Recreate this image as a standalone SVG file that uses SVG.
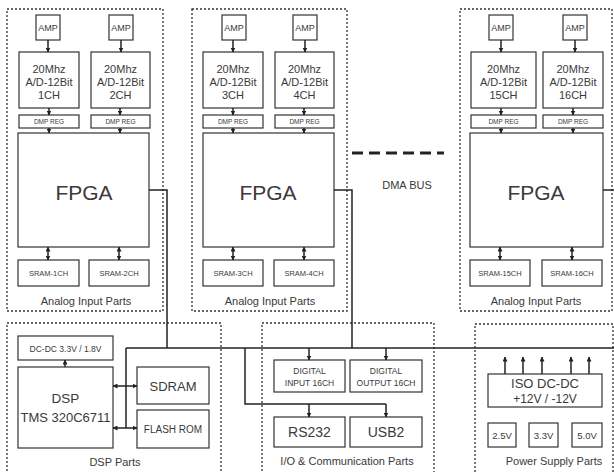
<svg xmlns="http://www.w3.org/2000/svg" width="614" height="472" viewBox="0 0 614 472">
<style>
.panel{fill:none;stroke:#333;stroke-width:1.3;stroke-dasharray:2 2}
.box{fill:#fff;stroke:#333;stroke-width:1.2}
.ln{fill:none;stroke:#222;stroke-width:1.5}
.t{font-family:"Liberation Sans",Arial,sans-serif;fill:#3a3a3a;text-anchor:middle}
.amp{font-size:9px}
.ad{font-size:11px}
.reg{font-size:6.5px}
.fpga{font-size:21px}
.sram{font-size:7.5px}
.lab{font-size:11px}
</style>
<defs>
<marker id="ah" viewBox="0 0 10 10" refX="9" refY="5" markerWidth="5" markerHeight="5" markerUnits="userSpaceOnUse" orient="auto-start-reverse">
<path d="M0,0 L10,5 L0,10 z" fill="#222"/>
</marker>
</defs>
<rect width="614" height="472" fill="#fff"/>

<g id="analog1">
<rect class="panel" x="7" y="9" width="156" height="302"/>
<rect class="box" x="36" y="15" width="24" height="25"/><text class="t amp" x="48" y="31">AMP</text>
<rect class="box" x="109" y="15" width="24" height="25"/><text class="t amp" x="121" y="31">AMP</text>
<rect class="box" x="19" y="52" width="60" height="56"/>
<text class="t ad" x="49" y="73">20Mhz</text><text class="t ad" x="49" y="86">A/D-12Bit</text><text class="t ad" x="49" y="99">1CH</text>
<rect class="box" x="91" y="52" width="59" height="56"/>
<text class="t ad" x="120.5" y="73">20Mhz</text><text class="t ad" x="120.5" y="86">A/D-12Bit</text><text class="t ad" x="120.5" y="99">2CH</text>
<rect class="box" x="19" y="115" width="60" height="13"/><text class="t reg" x="49" y="124">DMP REG</text>
<rect class="box" x="91" y="115" width="59" height="13"/><text class="t reg" x="120.5" y="124">DMP REG</text>
<rect class="box" x="18" y="133" width="131" height="114"/><text class="t fpga" x="84" y="200">FPGA</text>
<rect class="box" x="18" y="260" width="61" height="26"/><text class="t sram" x="48.5" y="276">SRAM-1CH</text>
<rect class="box" x="89" y="260" width="60" height="26"/><text class="t sram" x="119" y="276">SRAM-2CH</text>
<text class="t lab" x="86" y="305">Analog Input Parts</text>
</g>

<g id="analog2">
<rect class="panel" x="192" y="9" width="155" height="302"/>
<rect class="box" x="222" y="15" width="24" height="25"/><text class="t amp" x="234" y="31">AMP</text>
<rect class="box" x="293" y="15" width="24" height="25"/><text class="t amp" x="305" y="31">AMP</text>
<rect class="box" x="203" y="52" width="60" height="56"/>
<text class="t ad" x="233" y="73">20Mhz</text><text class="t ad" x="233" y="86">A/D-12Bit</text><text class="t ad" x="233" y="99">3CH</text>
<rect class="box" x="275" y="52" width="59" height="56"/>
<text class="t ad" x="304.5" y="73">20Mhz</text><text class="t ad" x="304.5" y="86">A/D-12Bit</text><text class="t ad" x="304.5" y="99">4CH</text>
<rect class="box" x="203" y="115" width="60" height="13"/><text class="t reg" x="233" y="124">DMP REG</text>
<rect class="box" x="275" y="115" width="59" height="13"/><text class="t reg" x="304.5" y="124">DMP REG</text>
<rect class="box" x="203" y="133" width="131" height="114"/><text class="t fpga" x="268" y="200">FPGA</text>
<rect class="box" x="203" y="260" width="60" height="26"/><text class="t sram" x="233" y="276">SRAM-3CH</text>
<rect class="box" x="274" y="260" width="60" height="26"/><text class="t sram" x="304" y="276">SRAM-4CH</text>
<text class="t lab" x="270" y="305">Analog Input Parts</text>
</g>

<g id="analog3">
<rect class="panel" x="460" y="9" width="152" height="302"/>
<rect class="box" x="489" y="15" width="24" height="25"/><text class="t amp" x="501" y="31">AMP</text>
<rect class="box" x="563" y="15" width="24" height="25"/><text class="t amp" x="575" y="31">AMP</text>
<rect class="box" x="471" y="52" width="65" height="56"/>
<text class="t ad" x="503.5" y="73">20Mhz</text><text class="t ad" x="503.5" y="86">A/D-12Bit</text><text class="t ad" x="503.5" y="99">15CH</text>
<rect class="box" x="543" y="52" width="60" height="56"/>
<text class="t ad" x="573" y="73">20Mhz</text><text class="t ad" x="573" y="86">A/D-12Bit</text><text class="t ad" x="573" y="99">16CH</text>
<rect class="box" x="471" y="115" width="65" height="13"/><text class="t reg" x="503.5" y="124">DMP REG</text>
<rect class="box" x="543" y="115" width="60" height="13"/><text class="t reg" x="573" y="124">DMP REG</text>
<rect class="box" x="470" y="133" width="133" height="114"/><text class="t fpga" x="536" y="200">FPGA</text>
<rect class="box" x="470" y="260" width="60" height="26"/><text class="t sram" x="500" y="276">SRAM-15CH</text>
<rect class="box" x="542" y="260" width="60" height="26"/><text class="t sram" x="572" y="276">SRAM-16CH</text>
<text class="t lab" x="536" y="305">Analog Input Parts</text>
</g>

<g id="dmabus">
<line x1="352" y1="153" x2="444" y2="153" stroke="#222" stroke-width="3" stroke-dasharray="11 6"/>
<text class="t" x="407" y="189" font-size="11" fill="#555">DMA BUS</text>
</g>

<g id="dsp">
<rect class="panel" x="7" y="323" width="214" height="160"/>
<rect class="box" x="18" y="336" width="95" height="24"/>
<text class="t" x="65.5" y="352" font-size="8.5">DC-DC 3.3V / 1.8V</text>
<rect class="box" x="18" y="367" width="95" height="81"/>
<text class="t" x="65.5" y="403" font-size="13.5">DSP</text>
<text class="t" x="65.5" y="422" font-size="13">TMS 320C6711</text>
<rect class="box" x="137" y="367" width="72" height="37"/>
<text class="t" x="173" y="391" font-size="13">SDRAM</text>
<rect class="box" x="137" y="410" width="72" height="38"/>
<text class="t" x="173" y="433" font-size="10">FLASH ROM</text>
<text class="t lab" x="115" y="466">DSP Parts</text>
</g>

<g id="io">
<rect class="panel" x="262" y="323" width="172" height="160"/>
<rect class="box" x="274" y="360" width="71" height="32"/>
<text class="t" x="309.5" y="374" font-size="8.5">DIGITAL</text>
<text class="t" x="309.5" y="386" font-size="8.5">INPUT 16CH</text>
<rect class="box" x="350" y="360" width="72" height="32"/>
<text class="t" x="386" y="374" font-size="8.5">DIGITAL</text>
<text class="t" x="386" y="386" font-size="8.5">OUTPUT 16CH</text>
<rect class="box" x="274" y="417" width="71" height="30"/>
<text class="t" x="309.5" y="437" font-size="14">RS232</text>
<rect class="box" x="350" y="417" width="72" height="30"/>
<text class="t" x="386" y="437" font-size="14">USB2</text>
<text class="t lab" x="347" y="465">I/O &amp; Communication Parts</text>
</g>

<g id="power">
<rect class="panel" x="475" y="324" width="138" height="160"/>
<rect class="box" x="488" y="374" width="114" height="33"/>
<text class="t" x="545" y="388" font-size="13">ISO DC-DC</text>
<text class="t" x="545" y="403" font-size="12">+12V / -12V</text>
<rect class="box" x="488" y="423" width="28" height="24"/>
<text class="t" x="502" y="439" font-size="9.5">2.5V</text>
<rect class="box" x="529" y="423" width="29" height="24"/>
<text class="t" x="543.5" y="439" font-size="9.5">3.3V</text>
<rect class="box" x="572" y="423" width="30" height="24"/>
<text class="t" x="587" y="439" font-size="9.5">5.0V</text>
<text class="t lab" x="554" y="465">Power Supply Parts</text>
</g>

<g id="connectors">
<line class="ln" x1="48" y1="40" x2="48" y2="52" marker-end="url(#ah)"/>
<line class="ln" x1="121" y1="40" x2="121" y2="52" marker-end="url(#ah)"/>
<line class="ln" x1="49" y1="108" x2="49" y2="115" marker-end="url(#ah)"/>
<line class="ln" x1="120" y1="108" x2="120" y2="115" marker-end="url(#ah)"/>
<line class="ln" x1="49" y1="128" x2="49" y2="133" marker-end="url(#ah)"/>
<line class="ln" x1="120" y1="128" x2="120" y2="133" marker-end="url(#ah)"/>
<line class="ln" x1="48" y1="247" x2="48" y2="260" marker-start="url(#ah)" marker-end="url(#ah)"/>
<line class="ln" x1="119" y1="247" x2="119" y2="260" marker-start="url(#ah)" marker-end="url(#ah)"/>
<line class="ln" x1="233" y1="40" x2="233" y2="52" marker-end="url(#ah)"/>
<line class="ln" x1="305" y1="40" x2="305" y2="52" marker-end="url(#ah)"/>
<line class="ln" x1="233" y1="108" x2="233" y2="115" marker-end="url(#ah)"/>
<line class="ln" x1="304" y1="108" x2="304" y2="115" marker-end="url(#ah)"/>
<line class="ln" x1="233" y1="128" x2="233" y2="133" marker-end="url(#ah)"/>
<line class="ln" x1="304" y1="128" x2="304" y2="133" marker-end="url(#ah)"/>
<line class="ln" x1="233" y1="247" x2="233" y2="260" marker-start="url(#ah)" marker-end="url(#ah)"/>
<line class="ln" x1="304" y1="247" x2="304" y2="260" marker-start="url(#ah)" marker-end="url(#ah)"/>
<line class="ln" x1="501" y1="40" x2="501" y2="52" marker-end="url(#ah)"/>
<line class="ln" x1="575" y1="40" x2="575" y2="52" marker-end="url(#ah)"/>
<line class="ln" x1="501" y1="108" x2="501" y2="115" marker-end="url(#ah)"/>
<line class="ln" x1="573" y1="108" x2="573" y2="115" marker-end="url(#ah)"/>
<line class="ln" x1="501" y1="128" x2="501" y2="133" marker-end="url(#ah)"/>
<line class="ln" x1="573" y1="128" x2="573" y2="133" marker-end="url(#ah)"/>
<line class="ln" x1="500" y1="247" x2="500" y2="260" marker-start="url(#ah)" marker-end="url(#ah)"/>
<line class="ln" x1="572" y1="247" x2="572" y2="260" marker-start="url(#ah)" marker-end="url(#ah)"/>
<polyline class="ln" points="149,190 167,190 167,348"/>
<polyline class="ln" points="334,190 352,190 352,348"/>
<polyline class="ln" points="603,190 614,190"/>
<line class="ln" x1="126" y1="348" x2="614" y2="348"/>
<line class="ln" x1="126" y1="348" x2="126" y2="428"/>
<line class="ln" x1="113" y1="386" x2="137" y2="386" marker-start="url(#ah)" marker-end="url(#ah)"/>
<line class="ln" x1="113" y1="428" x2="137" y2="428" marker-start="url(#ah)" marker-end="url(#ah)"/>
<line class="ln" x1="65" y1="367" x2="65" y2="360" marker-end="url(#ah)"/>
<line class="ln" x1="309" y1="348" x2="309" y2="360" marker-end="url(#ah)"/>
<line class="ln" x1="386" y1="348" x2="386" y2="360" marker-end="url(#ah)"/>
<polyline class="ln" points="245,348 245,404 386,404"/>
<line class="ln" x1="309" y1="404" x2="309" y2="417" marker-end="url(#ah)"/>
<line class="ln" x1="386" y1="404" x2="386" y2="417" marker-end="url(#ah)"/>
<line class="ln" x1="505" y1="374" x2="505" y2="357" marker-end="url(#ah)"/>
<line class="ln" x1="523" y1="374" x2="523" y2="357" marker-end="url(#ah)"/>
<line class="ln" x1="542" y1="374" x2="542" y2="357" marker-end="url(#ah)"/>
<line class="ln" x1="571" y1="374" x2="571" y2="357" marker-end="url(#ah)"/>
<line class="ln" x1="589" y1="374" x2="589" y2="357" marker-end="url(#ah)"/>
</g>
</svg>
